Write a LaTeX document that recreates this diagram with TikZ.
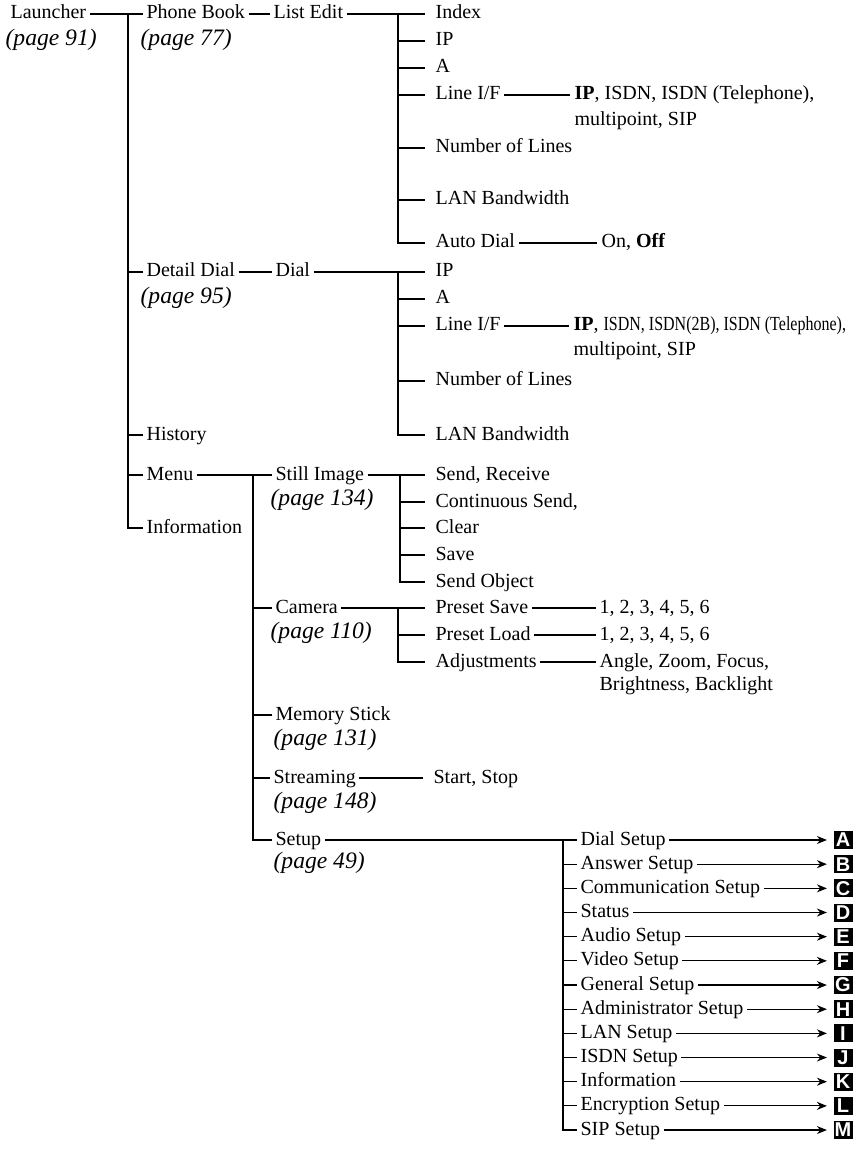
\documentclass[tikz,border=0pt]{standalone}
\usepackage{fontspec}
\setmainfont{Liberation Serif}
\newfontfamily\tagfont{Liberation Sans}
\usepackage{graphicx}
\usetikzlibrary{arrows.meta,positioning}

\tikzset{
  item/.style={anchor=west, inner xsep=1.5pt, inner ysep=0pt, text height=7pt, text depth=2pt,
    font=\fontsize{10}{11}\selectfont},
  val/.style={item, inner xsep=2pt},
  page/.style={anchor=west, inner sep=0pt, font=\fontsize{11.8}{13}\selectfont\itshape},
  tag/.style={fill=black, text=white, inner sep=0pt, minimum width=9.5pt, minimum height=9pt,
    font=\tagfont\bfseries\fontsize{10}{10}\selectfont},
  tick/.style={shorten >=3.5pt},
  link/.style={line width=0.6pt},
}

\begin{document}
\begin{tikzpicture}[x=0.5pt, y=-0.5pt, link]
    \useasboundingbox (0,0) rectangle (855,1149);

    % Top level
    \node[item] (launch) at (7,14) {Launcher};
    \node[page] (pg91) at (5,40) {(page 91)};
    \node[item] (phone) at (143,14) {Phone Book};
    \node[page] (pg77) at (140,40) {(page 77)};
    \node[item] (detail) at (143,272) {Detail Dial};
    \node[page] (pg95) at (140,298) {(page 95)};
    \node[item] (hist) at (143,435) {History};
    \node[item] (menu) at (143,475) {Menu};
    \node[item] (info) at (143,528) {Information};

    \coordinate (trunk) at (128,14);
    \draw (launch) -- (phone);
    \foreach \n in {detail,hist,menu}
        \draw (\n.west) -- (\n.west -| trunk);
    \draw (trunk) |- (info.west);

    % Phone Book -> List Edit
    \node[item] (listed) at (270,14) {List Edit};
    \draw (phone) -- (listed);
    \foreach \txt/\y [count=\i] in {Index/14, IP/41, A/68, {Line I/F}/95, {Number of Lines}/148,
        {LAN Bandwidth}/200, {Auto Dial}/243}
        \node[item] (le\i) at (432,\y) {\txt};
    \coordinate (leBus) at (398,14);
    \draw[tick] (listed) -- (le1);
    \foreach \i in {2,...,6}
        \draw[tick] (le\i.west -| leBus) -- (le\i.west);
    \draw[tick] (leBus) |- (le7.west);

    \node[val] (lif1) at (570,95) {\textbf{IP}, ISDN, ISDN (Telephone),};
    \node[val] (mp1) at (570,121) {multipoint, SIP};
    \draw (le4) -- (lif1);
    \node[val] (ad) at (597,243) {On, \textbf{Off}};
    \draw (le7) -- (ad);

    % Detail Dial -> Dial
    \node[item] (dial) at (272,272) {Dial};
    \draw (detail) -- (dial);
    \foreach \txt/\y [count=\i] in {IP/272, A/299, {Line I/F}/326, {Number of Lines}/381,
        {LAN Bandwidth}/435}
        \node[item] (dl\i) at (432,\y) {\txt};
    \coordinate (dlBus) at (398,272);
    \draw[tick] (dial) -- (dl1);
    \foreach \i in {2,...,4}
        \draw[tick] (dl\i.west -| dlBus) -- (dl\i.west);
    \draw[tick] (dlBus) |- (dl5.west);

    \node[val] (lif2) at (569,326) {\textbf{IP}, \scalebox{0.8}[1]{ISDN, ISDN(2B), ISDN (Telephone),}};
    \node[val] (mp2) at (569,351) {multipoint, SIP};
    \draw (dl3) -- (lif2);

    % Menu
    \node[item] (still) at (272,475) {Still Image};
    \node[page] (pg134) at (270,500) {(page 134)};
    \node[item] (cam) at (272,608) {Camera};
    \node[page] (pg110) at (270,633) {(page 110)};
    \node[item] (mstick) at (272,715) {Memory Stick};
    \node[page] (pg131) at (273,740) {(page 131)};
    \node[item] (stream) at (270,778) {Streaming};
    \node[page] (pg148) at (273,803) {(page 148)};
    \node[item] (setup) at (272,840) {Setup};
    \node[page] (pg49) at (273,863) {(page 49)};

    \coordinate (menuBus) at (253,475);
    \draw (menu) -- (still);
    \foreach \n in {cam,mstick,stream}
        \draw (\n.west) -- (\n.west -| menuBus);
    \draw (menuBus) |- (setup.west);

    % Still Image
    \foreach \txt/\y [count=\i] in {{Send, Receive}/475, {Continuous Send,}/502, Clear/528,
        Save/555, {Send Object}/582}
        \node[item] (si\i) at (432,\y) {\txt};
    \coordinate (siBus) at (400,475);
    \draw[tick] (still) -- (si1);
    \foreach \i in {2,...,4}
        \draw[tick] (si\i.west -| siBus) -- (si\i.west);
    \draw[tick] (siBus) |- (si5.west);

    % Camera
    \node[item] (psave) at (432,608) {Preset Save};
    \node[item] (pload) at (432,635) {Preset Load};
    \node[item] (adj) at (432,662) {Adjustments};
    \coordinate (camBus) at (398,608);
    \draw[tick] (cam) -- (psave);
    \draw[tick] (pload.west -| camBus) -- (pload.west);
    \draw[tick] (camBus) |- (adj.west);

    \node[item] (psv) at (596,608) {1, 2, 3, 4, 5, 6};
    \node[item] (plv) at (596,635) {1, 2, 3, 4, 5, 6};
    \node[item] (adjv) at (596,662) {Angle, Zoom, Focus,};
    \node[item] (adjv2) at (596,685) {Brightness, Backlight};
    \draw (psave) -- (psv);
    \draw (pload) -- (plv);
    \draw (adj) -- (adjv);

    % Streaming
    \node[item] (start) at (430,778) {Start, Stop};
    \draw[tick] (stream) -- (start);

    % Setup
    \coordinate (setupBus) at (563,840);
    \foreach \txt/\tg [count=\i from 0] in {{Dial Setup}/A, {Answer Setup}/B,
        {Communication Setup}/C, Status/D, {Audio Setup}/E, {Video Setup}/F,
        {General Setup}/G, {Administrator Setup}/H, {LAN Setup}/I, {ISDN Setup}/J,
        Information/K, {Encryption Setup}/L, {SIP Setup}/M}
    {
        \node[item] (su\i) at (577,840+24.17*\i) {\txt};
        \node[tag] (tg\i) at (843,840+24.17*\i) {\tg};
        \draw[-{Stealth[length=5pt,width=4pt]}, shorten >=3pt] (su\i) -- (tg\i);
    }
    \draw (setup) -- (su0);
    \foreach \i in {1,...,11}
        \draw (su\i.west -| setupBus) -- (su\i.west);
    \draw (setupBus) |- (su12.west);
\end{tikzpicture}
\end{document}
